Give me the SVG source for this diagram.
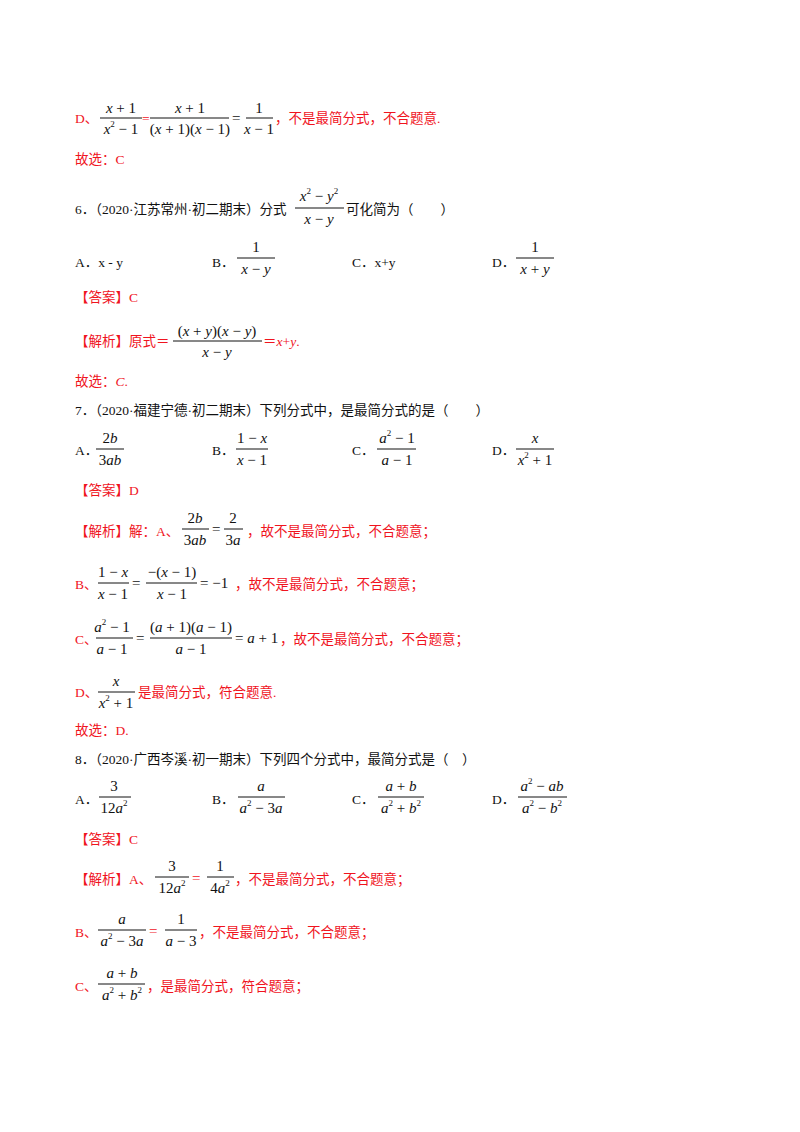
<svg xmlns="http://www.w3.org/2000/svg" width="800" height="1132" viewBox="0 0 800 1132">
<style>
.r{font-family:"Liberation Serif","Noto Sans CJK SC",serif;font-size:13.5px;fill:#f0141e}
.k{font-family:"Liberation Serif","Noto Sans CJK SC",serif;font-size:13.5px;fill:#111}
.m{font-family:"Liberation Serif",serif;font-size:15px;fill:#111;text-anchor:middle}
.ml{font-family:"Liberation Serif",serif;font-size:15px;fill:#111}
.i{font-style:italic}
.s{font-size:9px}
line{stroke:#111;stroke-width:1}
</style>
<rect width="800" height="1132" fill="#fff"/>

<text class="r" x="75" y="123">D、</text>
<text class="m" x="121" y="113"><tspan class="i">x</tspan> + 1</text><line x1="100" y1="118" x2="142" y2="118"/><text class="m" x="121" y="134"><tspan class="i">x</tspan><tspan class="s" dy="-7">2</tspan><tspan dy="7"> − 1</tspan></text>
<text class="r" x="142" y="123">=</text>
<text class="m" x="190" y="113"><tspan class="i">x</tspan> + 1</text><line x1="150" y1="118" x2="229" y2="118"/><text class="m" x="190" y="134">(<tspan class="i">x</tspan> + 1)(<tspan class="i">x</tspan> − 1)</text>
<text class="ml" x="232" y="123">=</text>
<text class="m" x="259" y="113">1</text><line x1="246" y1="118" x2="273" y2="118"/><text class="m" x="259" y="134"><tspan class="i">x</tspan> − 1</text>
<text class="r" x="275" y="123">，不是最简分式，不合题意.</text>
<text class="r" x="75" y="164">故选：C</text>

<text class="k" x="75" y="214">6．（2020·江苏常州·初二期末）分式</text>
<text class="m" x="319" y="201"><tspan class="i">x</tspan><tspan class="s" dy="-7">2</tspan><tspan dy="7"> − </tspan><tspan class="i">y</tspan><tspan class="s" dy="-7">2</tspan></text><line x1="295" y1="208" x2="344" y2="208"/><text class="m" x="319" y="224"><tspan class="i">x</tspan> − <tspan class="i">y</tspan></text>
<text class="k" x="346" y="214">可化简为（　　）</text>
<text class="k" x="75" y="267">A．x - y</text>
<text class="k" x="212" y="267">B．</text>
<text class="m" x="256" y="252">1</text><line x1="237" y1="258" x2="275" y2="258"/><text class="m" x="256" y="274"><tspan class="i">x</tspan> − <tspan class="i">y</tspan></text>
<text class="k" x="352" y="267">C．x+y</text>
<text class="k" x="492" y="267">D．</text>
<text class="m" x="535" y="252">1</text><line x1="516" y1="258" x2="554" y2="258"/><text class="m" x="535" y="274"><tspan class="i">x</tspan> + <tspan class="i">y</tspan></text>
<text class="r" x="75" y="302">【答案】C</text>
<text class="r" x="75" y="346">【解析】原式＝</text>
<text class="m" x="217" y="336">(<tspan class="i">x</tspan> + <tspan class="i">y</tspan>)(<tspan class="i">x</tspan> − <tspan class="i">y</tspan>)</text><line x1="173" y1="341" x2="262" y2="341"/><text class="m" x="217" y="357"><tspan class="i">x</tspan> − <tspan class="i">y</tspan></text>
<text class="r" x="263" y="346">＝<tspan class="i">x</tspan>+<tspan class="i">y</tspan>.</text>
<text class="r" x="75" y="386">故选：<tspan class="i">C</tspan>.</text>

<text class="k" x="75" y="415">7．（2020·福建宁德·初二期末）下列分式中，是最简分式的是（　　）</text>
<text class="k" x="75" y="455">A．</text>
<text class="m" x="110" y="443">2<tspan class="i">b</tspan></text><line x1="96" y1="449" x2="124" y2="449"/><text class="m" x="110" y="465">3<tspan class="i">ab</tspan></text>
<text class="k" x="212" y="455">B．</text>
<text class="m" x="252" y="443">1 − <tspan class="i">x</tspan></text><line x1="236" y1="449" x2="268" y2="449"/><text class="m" x="252" y="465"><tspan class="i">x</tspan> − 1</text>
<text class="k" x="352" y="455">C．</text>
<text class="m" x="397" y="443"><tspan class="i">a</tspan><tspan class="s" dy="-7">2</tspan><tspan dy="7"> − 1</tspan></text><line x1="377" y1="449" x2="416" y2="449"/><text class="m" x="397" y="465"><tspan class="i">a</tspan> − 1</text>
<text class="k" x="492" y="455">D．</text>
<text class="m" x="535" y="443"><tspan class="i">x</tspan></text><line x1="516" y1="449" x2="554" y2="449"/><text class="m" x="535" y="465"><tspan class="i">x</tspan><tspan class="s" dy="-7">2</tspan><tspan dy="7"> + 1</tspan></text>
<text class="r" x="75" y="495">【答案】D</text>

<text class="r" x="75" y="536">【解析】解：A、</text>
<text class="m" x="195" y="523">2<tspan class="i">b</tspan></text><line x1="182" y1="529" x2="209" y2="529"/><text class="m" x="195" y="545">3<tspan class="i">ab</tspan></text>
<text class="ml" x="212" y="534">=</text>
<text class="m" x="233" y="523">2</text><line x1="224" y1="529" x2="243" y2="529"/><text class="m" x="233" y="545">3<tspan class="i">a</tspan></text>
<text class="r" x="247" y="536">，故不是最简分式，不合题意；</text>

<text class="r" x="75" y="589">B、</text>
<text class="m" x="113" y="577">1 − <tspan class="i">x</tspan></text><line x1="98" y1="583" x2="129" y2="583"/><text class="m" x="113" y="599"><tspan class="i">x</tspan> − 1</text>
<text class="ml" x="132" y="588">=</text>
<text class="m" x="172" y="577">−(<tspan class="i">x</tspan> − 1)</text><line x1="146" y1="583" x2="197" y2="583"/><text class="m" x="172" y="599"><tspan class="i">x</tspan> − 1</text>
<text class="ml" x="200" y="588">= −1</text>
<text class="r" x="235" y="589">，故不是最简分式，不合题意；</text>

<text class="r" x="75" y="644">C、</text>
<text class="m" x="112" y="632"><tspan class="i">a</tspan><tspan class="s" dy="-7">2</tspan><tspan dy="7"> − 1</tspan></text><line x1="96" y1="638" x2="133" y2="638"/><text class="m" x="112" y="654"><tspan class="i">a</tspan> − 1</text>
<text class="ml" x="136" y="643">=</text>
<text class="m" x="191" y="632">(<tspan class="i">a</tspan> + 1)(<tspan class="i">a</tspan> − 1)</text><line x1="150" y1="638" x2="232" y2="638"/><text class="m" x="191" y="654"><tspan class="i">a</tspan> − 1</text>
<text class="ml" x="235" y="643">= <tspan class="i">a</tspan> + 1</text>
<text class="r" x="280" y="644">，故不是最简分式，不合题意；</text>

<text class="r" x="75" y="697">D、</text>
<text class="m" x="116" y="686"><tspan class="i">x</tspan></text><line x1="98" y1="692" x2="135" y2="692"/><text class="m" x="116" y="708"><tspan class="i">x</tspan><tspan class="s" dy="-7">2</tspan><tspan dy="7"> + 1</tspan></text>
<text class="r" x="138" y="697">是最简分式，符合题意.</text>
<text class="r" x="75" y="735">故选：D.</text>

<text class="k" x="75" y="764">8．（2020·广西岑溪·初一期末）下列四个分式中，最简分式是（　）</text>
<text class="k" x="75" y="804">A．</text>
<text class="m" x="114" y="791">3</text><line x1="99" y1="797" x2="131" y2="797"/><text class="m" x="114" y="813">12<tspan class="i">a</tspan><tspan class="s" dy="-7">2</tspan></text>
<text class="k" x="212" y="804">B．</text>
<text class="m" x="261" y="791"><tspan class="i">a</tspan></text><line x1="238" y1="797" x2="285" y2="797"/><text class="m" x="261" y="813"><tspan class="i">a</tspan><tspan class="s" dy="-7">2</tspan><tspan dy="7"> − 3</tspan><tspan class="i">a</tspan></text>
<text class="k" x="352" y="804">C．</text>
<text class="m" x="401" y="791"><tspan class="i">a</tspan> + <tspan class="i">b</tspan></text><line x1="378" y1="797" x2="424" y2="797"/><text class="m" x="401" y="813"><tspan class="i">a</tspan><tspan class="s" dy="-7">2</tspan><tspan dy="7"> + </tspan><tspan class="i">b</tspan><tspan class="s" dy="-7">2</tspan></text>
<text class="k" x="492" y="804">D．</text>
<text class="m" x="542" y="791"><tspan class="i">a</tspan><tspan class="s" dy="-7">2</tspan><tspan dy="7"> − </tspan><tspan class="i">ab</tspan></text><line x1="518" y1="797" x2="567" y2="797"/><text class="m" x="542" y="813"><tspan class="i">a</tspan><tspan class="s" dy="-7">2</tspan><tspan dy="7"> − </tspan><tspan class="i">b</tspan><tspan class="s" dy="-7">2</tspan></text>
<text class="r" x="75" y="844">【答案】C</text>

<text class="r" x="75" y="884">【解析】A、</text>
<text class="m" x="172" y="871">3</text><line x1="155" y1="877" x2="189" y2="877"/><text class="m" x="172" y="893">12<tspan class="i">a</tspan><tspan class="s" dy="-7">2</tspan></text>
<text class="r" x="192" y="883" style="font-size:15px">=</text>
<text class="m" x="220" y="871">1</text><line x1="207" y1="877" x2="234" y2="877"/><text class="m" x="220" y="893">4<tspan class="i">a</tspan><tspan class="s" dy="-7">2</tspan></text>
<text class="r" x="235" y="884">，不是最简分式，不合题意；</text>

<text class="r" x="75" y="937">B、</text>
<text class="m" x="122" y="924"><tspan class="i">a</tspan></text><line x1="98" y1="930" x2="146" y2="930"/><text class="m" x="122" y="946"><tspan class="i">a</tspan><tspan class="s" dy="-7">2</tspan><tspan dy="7"> − 3</tspan><tspan class="i">a</tspan></text>
<text class="r" x="149" y="936" style="font-size:15px">=</text>
<text class="m" x="181" y="924">1</text><line x1="165" y1="930" x2="197" y2="930"/><text class="m" x="181" y="946"><tspan class="i">a</tspan> − 3</text>
<text class="r" x="199" y="937">，不是最简分式，不合题意；</text>

<text class="r" x="75" y="991">C、</text>
<text class="m" x="122" y="978"><tspan class="i">a</tspan> + <tspan class="i">b</tspan></text><line x1="98" y1="984" x2="145" y2="984"/><text class="m" x="122" y="1000"><tspan class="i">a</tspan><tspan class="s" dy="-7">2</tspan><tspan dy="7"> + </tspan><tspan class="i">b</tspan><tspan class="s" dy="-7">2</tspan></text>
<text class="r" x="147" y="991">，是最简分式，符合题意；</text>
</svg>
